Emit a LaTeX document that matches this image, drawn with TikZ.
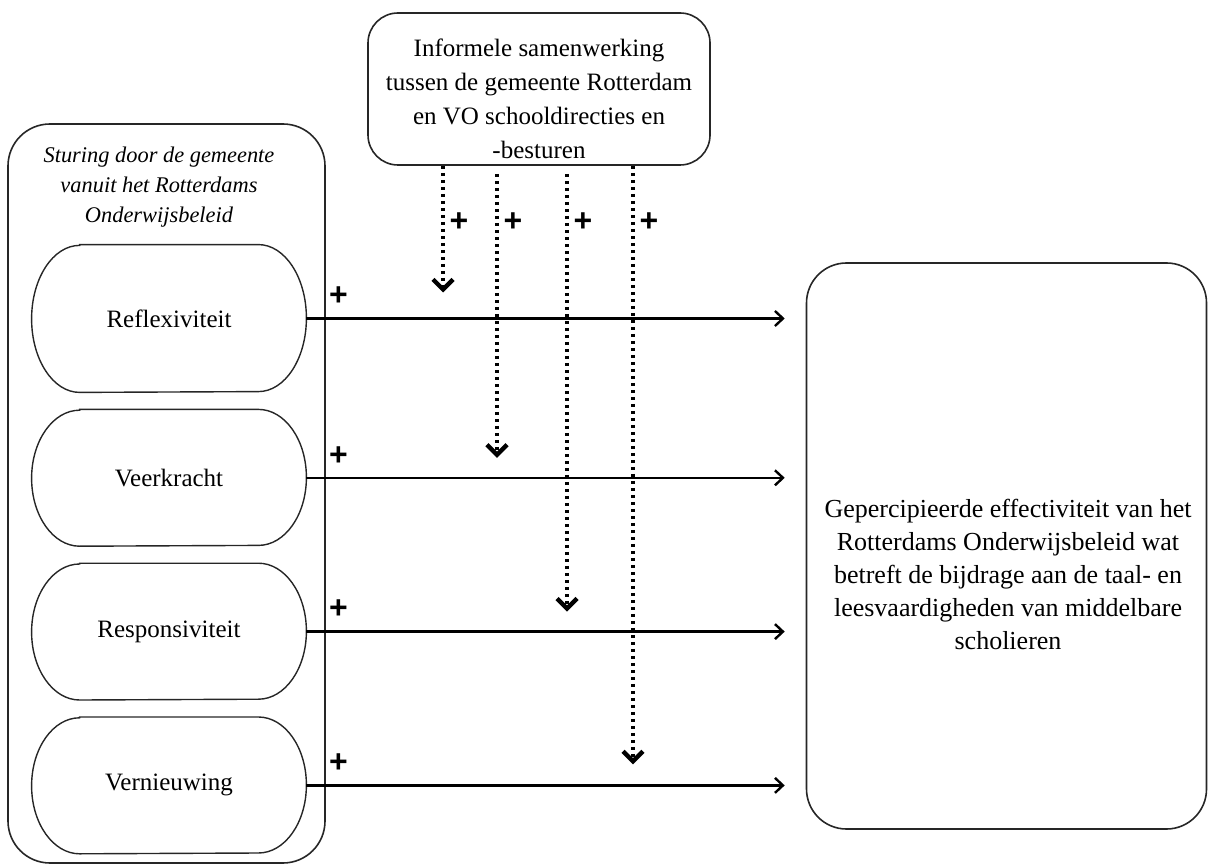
\documentclass[tikz,border=0pt]{standalone}
\usepackage{fontspec}
\setmainfont{Liberation Serif}
\setsansfont{Liberation Sans}
\usepackage{tikz}
\usetikzlibrary{positioning,arrows.meta}

\begin{document}
\begin{tikzpicture}[x = 0.5pt, y = -0.5pt, node distance = 8.5pt, font = \fontsize{12.5}{16.5}\selectfont]
            \tikzstyle{box} = [draw=black!85, line width=0.8pt, rounded corners=15pt, align=center, inner sep=0pt];
            \tikzstyle{pill} = [minimum width=137pt, minimum height=68pt, inner sep=0pt];
            \tikzstyle{plus} = [font=\sffamily\bfseries\fontsize{16}{16}\selectfont, inner sep=0pt];
            \tikzstyle{effect} = [-{Straight Barb[length=4pt, width=7.5pt]}, line width=1.2pt];
            \tikzstyle{moderate} = [-{Straight Barb[length=5pt, width=10pt, line width=2.2pt]}, line width=1.7pt, dash pattern=on 1.6pt off 1.9pt];
            \useasboundingbox (0, 0) rectangle (1208, 865);

            \node [box, rounded corners=21pt, minimum width=158.5pt, minimum height=369.5pt] (steer) at (166.5, 493.5) {};
            \node [font=\itshape\fontsize{11.2}{15}\selectfont, align=center] (steertitle) at (159, 187) {Sturing door de gemeente\\vanuit het Rotterdams\\Onderwijsbeleid};

            \node [pill, minimum height=73.5pt] (refl) at (169, 318.5) {Reflexiviteit};
            \node [pill, below = of refl] (veer) {Veerkracht};
            \node [pill, below = of veer] (resp) {Responsiviteit};
            \node [pill, below = of resp] (vern) {Vernieuwing};

            \node [box, minimum width=171pt, minimum height=76pt] (coop) at (539, 89) {};
            \node [align=center, font=\fontsize{12.5}{17}\selectfont] (cooptext) at (539, 99) {Informele samenwerking\\tussen de gemeente Rotterdam\\en VO schooldirecties en\\-besturen};

            \node [box, rounded corners=20pt, minimum width=200pt, minimum height=283pt] (goal) at (1006.5, 546) {};
            \node [align=center, font=\fontsize{13}{16.5}\selectfont] (goaltext) at (1008, 574) {Gepercipieerde effectiviteit van het\\Rotterdams Onderwijsbeleid wat\\betreft de bijdrage aan de taal- en\\leesvaardigheden van middelbare\\scholieren};

            \foreach \n/\r in {refl/36.75, veer/34, resp/34, vern/34}
                \draw [black!85, line width=0.7pt] ([xshift=24pt]\n.north west) -- ([xshift=-24pt]\n.north east)
                    arc [start angle=90, end angle=-90, x radius=24pt, y radius=\r pt]
                    -- ([xshift=24pt]\n.south west)
                    arc [start angle=270, end angle=90, x radius=24pt, y radius=\r pt] -- cycle;

            \foreach \n in {refl, veer, resp, vern} {
                \draw [effect, shorten >=10.5pt] (\n.east) -- (\n.east -| goal.west);
                \node [plus] (p\n) at ([xshift=16pt, yshift=11pt]\n.east) {+};
            }

            \foreach \x/\n/\t/\s in {443/refl/0/13, 497/veer/4/10, 567/resp/4/10, 633/vern/0/10.5} {
                \draw [moderate] ([yshift=-\t pt]coop.south -| \x, 0) -- ([yshift=\s pt]\n.east -| \x, 0);
                \node [plus] (q\n) at (\x + 16, 222) {+};
            }
        \end{tikzpicture}
\end{document}
